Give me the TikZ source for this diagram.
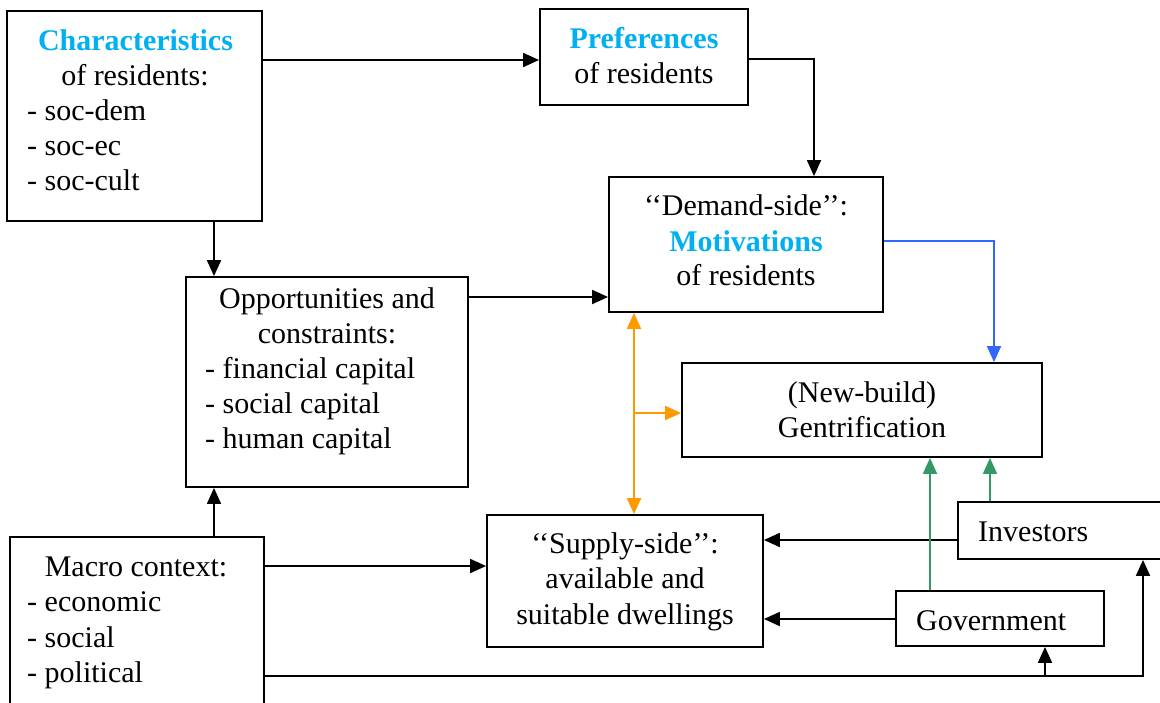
\documentclass[tikz,border=0pt]{standalone}
\usepackage{fontspec}
\setmainfont{Liberation Serif}
\usetikzlibrary{arrows.meta}
\definecolor{keyblue}{HTML}{00B0F0}
\definecolor{linkblue}{HTML}{3366FF}
\definecolor{linkorange}{HTML}{FF9900}
\definecolor{linkgreen}{HTML}{339966}
\tikzset{
  box/.style={draw, line width=1.8pt, rectangle, inner sep=0pt},
  txt/.style={inner sep=0pt, anchor=base, font=\fontsize{30}{35}\selectfont},
  ltxt/.style={txt, anchor=base west},
  key/.style={txt, font=\fontsize{30}{35}\selectfont\bfseries, text=keyblue},
  link/.style={line width=1.8pt, -{Triangle[length=16pt,width=14pt]}},
  twoway/.style={line width=1.8pt, {Triangle[length=16pt,width=14pt]}-{Triangle[length=16pt,width=14pt]}},
}
\begin{document}
\begin{tikzpicture}[x=1pt, y=-1pt]
\clip (0,0) rectangle (1160,702);
\fill[white] (0,0) rectangle (1160,702);

% boxes
\node[box, minimum width=255pt, minimum height=210pt] (char) at (134.5,116) {};
\node[box, minimum width=208pt, minimum height=96pt] (pref) at (644,57) {};
\node[box, minimum width=274pt, minimum height=135pt] (dem) at (746,244.5) {};
\node[box, minimum width=282pt, minimum height=210pt] (opp) at (327,382) {};
\node[box, minimum width=360pt, minimum height=94pt] (gent) at (862,410) {};
\node[box, minimum width=276pt, minimum height=132pt] (sup) at (625,581) {};
\node[box, minimum width=212pt, minimum height=57pt] (inv) at (1064,530.5) {};
\node[box, minimum width=208pt, minimum height=55pt] (gov) at (1000,618.5) {};
\node[box, minimum width=254pt, minimum height=190pt] (mac) at (137,632) {};

% texts
\node[key] (t1) at (135.5,50) {Characteristics};
\node[txt] (t2) at (135,85) {of residents:};
\node[ltxt] (t3) at (27,120) {- soc-dem};
\node[ltxt] (t4) at (27,155) {- soc-ec};
\node[ltxt] (t5) at (27,190) {- soc-cult};

\node[key] (p1) at (644,48.5) {Preferences};
\node[txt] (p2) at (644,83) {of residents};

\node[txt] (d1) at (746,215) {‘‘Demand-side’’:};
\node[key] (d2) at (746,251) {Motivations};
\node[txt] (d3) at (746,285) {of residents};

\node[txt] (o1) at (327,308) {Opportunities and};
\node[txt] (o2) at (327,343) {constraints:};
\node[ltxt] (o3) at (205,378) {- financial capital};
\node[ltxt] (o4) at (205,413) {- social capital};
\node[ltxt] (o5) at (205,448) {- human capital};

\node[txt] (g1) at (862,402) {(New-build)};
\node[txt] (g2) at (862,437) {Gentrification};

\node[txt] (s1) at (625,553) {‘‘Supply-side’’:};
\node[txt] (s2) at (625,588) {available and};
\node[txt] (s3) at (625,624) {suitable dwellings};

\node[ltxt] (i1) at (978,541) {Investors};
\node[ltxt] (v1) at (916,630) {Government};

\node[txt] (m1) at (136,576) {Macro context:};
\node[ltxt] (m2) at (27,611) {- economic};
\node[ltxt] (m3) at (27,647) {- social};
\node[ltxt] (m4) at (27,682) {- political};

% black connectors
\draw[link] (char.east |- 0,60) -- (pref.west |- 0,60);
\draw[link] (pref.east |- 0,59) -| (dem.north -| 814,0);
\draw[link] (char.south -| 214,0) -- (opp.north -| 214,0);
\draw[link] (opp.east |- 0,297) -- (dem.west |- 0,297);
\draw[link] (mac.north -| 214,0) -- (opp.south -| 214,0);
\draw[link] (mac.east |- 0,566) -- (sup.west |- 0,566);
\draw[link] (inv.west |- 0,540) -- (sup.east |- 0,540);
\draw[link] (gov.west |- 0,619) -- (sup.east |- 0,619);
\coordinate (split) at (1045,676);
\draw[link] (mac.east |- 0,676) -| (inv.south -| 1143,0);
\draw[link] (split) -- (gov.south -| split);

% coloured connectors
\draw[link, linkblue] (dem.east |- 0,241) -| (gent.north -| 994,0);
\draw[twoway, linkorange] (dem.south -| 634,0) -- (sup.north -| 634,0);
\coordinate (fork) at (634,413);
\draw[link, linkorange] (fork) -- (gent.west |- fork);
\draw[link, linkgreen] (gov.north -| 930,0) -- (gent.south -| 930,0);
\draw[link, linkgreen] (inv.north -| 990,0) -- (gent.south -| 990,0);
\end{tikzpicture}
\end{document}
